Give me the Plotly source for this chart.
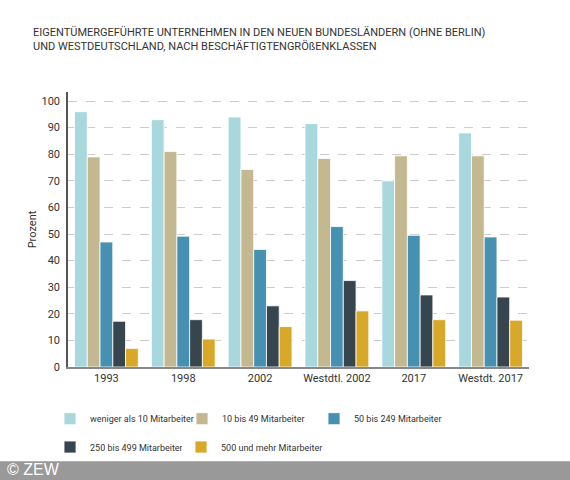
import plotly.graph_objects as go

# categories along the x axis
kategorien = ["1993", "1998", "2002", "Westdtl. 2002", "2017", "Westdt. 2017"]

# share of owner-managed firms (percent) by size class
weniger_als_10 = [96, 93, 94, 91.5, 70, 88]
bis_49 = [79, 81, 74.3, 78.4, 79.4, 79.4]
bis_249 = [47, 49.2, 44.2, 52.8, 49.5, 48.9]
bis_499 = [17.2, 17.8, 23, 32.5, 27.1, 26.3]
ab_500 = [7, 10.5, 15.2, 21.1, 17.8, 17.6]

serien = [
    ("weniger als 10 Mitarbeiter", weniger_als_10, "#a8d8de", "legend"),
    ("10 bis 49 Mitarbeiter", bis_49, "#c4b891", "legend"),
    ("50 bis 249 Mitarbeiter", bis_249, "#4690b2", "legend"),
    ("250 bis 499 Mitarbeiter", bis_499, "#37454f", "legend2"),
    ("500 und mehr Mitarbeiter", ab_500, "#d8a828", "legend3"),
]

fig = go.Figure()
for name, werte, farbe, leg in serien:
    fig.add_trace(go.Bar(
        x=kategorien, y=werte, name=name, legend=leg,
        marker=dict(color=farbe, line=dict(color="rgba(255,255,255,0.8)", width=1)),
    ))

legend_style = dict(
    orientation="h", xanchor="left", yanchor="middle",
    entrywidthmode="pixels", traceorder="normal",
    font=dict(family="Roboto", size=9, color="#333333"),
    itemclick=False, itemdoubleclick=False, bgcolor="rgba(0,0,0,0)",
)

leg_x = -0.039
fig.update_layout(
    width=570, height=480,
    margin=dict(l=68, r=41, t=92, b=113),
    paper_bgcolor="white", plot_bgcolor="white",
    barmode="group", bargap=0.17, bargroupgap=0,
    font=dict(family="Roboto", size=11, color="#333333"),
    showlegend=True,
    legend=dict(x=leg_x, y=-0.188, entrywidth=87, **legend_style),
    legend2=dict(x=leg_x, y=-0.291, entrywidth=87, **legend_style),
    legend3=dict(x=leg_x + 131 / 461, y=-0.291, entrywidth=0, **legend_style),
    annotations=[
        dict(text="EIGENTÜMERGEFÜHRTE UNTERNEHMEN IN DEN NEUEN BUNDESLÄNDERN (OHNE BERLIN)<br>"
                  "UND WESTDEUTSCHLAND, NACH BESCHÄFTIGTENGRÖßENKLASSEN",
             xref="paper", yref="paper", x=-0.08, y=1.247, xanchor="left", yanchor="top",
             align="left", showarrow=False,
             font=dict(family="Roboto", size=11, color="#333333")),
        dict(text="© ZEW", xref="paper", yref="paper", x=-0.137, y=-0.3745,
             xanchor="left", yanchor="middle", showarrow=False,
             font=dict(family="Liberation Sans", size=16, color="white")),
    ],
    shapes=[
        dict(type="rect", xref="paper", yref="paper", x0=-0.2, x1=1.2, y0=-0.45, y1=-0.343,
             fillcolor="#999999", line=dict(width=0), layer="below"),
    ],
)

fig.update_xaxes(
    showline=True, linecolor="#888888", linewidth=2,
    ticks="", tickfont=dict(size=11, color="#333333"),
)
fig.update_yaxes(
    range=[0, 103.4], tickvals=list(range(0, 101, 10)),
    showgrid=True, gridcolor="#cccccc", griddash="dash", gridwidth=1,
    showline=True, linecolor="#555555", linewidth=1.5,
    zeroline=False, ticks="", ticklabelstandoff=4,
    title=dict(text="Prozent", font=dict(size=11, color="#333333"), standoff=3),
    tickfont=dict(size=11, color="#333333"),
)

fig.write_html("out.html", config={"displayModeBar": False},
               post_script="document.body.style.margin='0';")
